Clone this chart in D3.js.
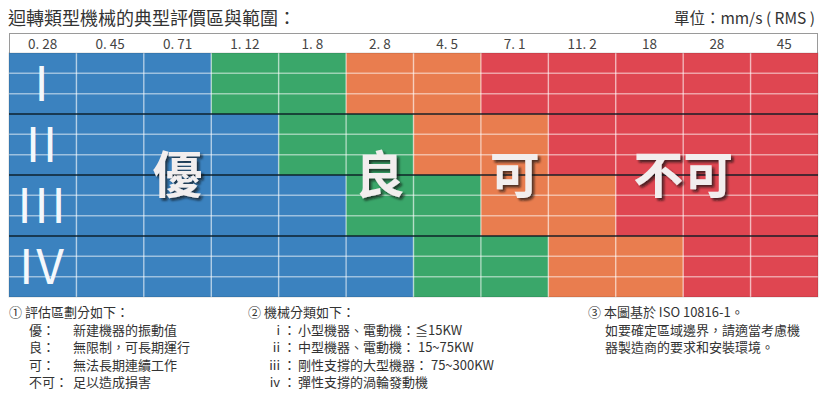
<!DOCTYPE html>
<html>
<head>
<meta charset="utf-8">
<script src="https://cdn.jsdelivr.net/npm/d3@7"></script>
<style>
  body { margin: 0; background: #fff; }
  text { font-family: "Noto Sans CJK TC", "Noto Sans", sans-serif; }
</style>
</head>
<body>
<div id="chart"></div>
<script>
/* velocity steps, mm/s RMS (header row) */
var velocities = ["0.28", "0.45", "0.71", "1.12", "1.8", "2.8", "4.5", "7.1", "11.2", "18", "28", "45"];
/* machine classes (rows) */
var machineClasses = ["I", "II", "III", "IV"];
/* evaluation zones */
var zones = ["優", "良", "可", "不可"];
var zoneColors = ["#3b82bf", "#3aa76a", "#e97d4f", "#df4651"];
/* first velocity column of 良 / 可 / 不可 for each class */
var goodFrom = [3, 4, 5, 6];
var fairFrom = [5, 6, 7, 8];
var poorFrom = [7, 8, 9, 10];
/* column under which each zone label is centred */
var zoneLabelCol = [2, 5, 7, 9.5];

var notes1 = [["優：", "新建機器的振動值"], ["良：", "無限制，可長期運行"], ["可：", "無法長期連續工作"], ["不可：", "足以造成損害"]];
var notes2 = [["i", "小型機器、電動機：≦15KW"], ["ii", "中型機器、電動機： 15~75KW"], ["iii", "剛性支撐的大型機器： 75~300KW"], ["iv", "彈性支撐的渦輪發動機"]];
var notes3 = ["本圖基於 ISO 10816-1。", "如要確定區域邊界，請適當考慮機", "器製造商的要求和安裝環境。"];

var width = 825, height = 399;
var gLeft = 9, gRight = 818, headTop = 33, gTop = 53, gBottom = 297;

var svg = d3.select("#chart").append("svg")
    .attr("width", width)
    .attr("height", height);

var x = d3.scaleBand().domain(velocities).range([gLeft, gRight]);
var y = d3.scaleBand().domain(machineClasses).range([gTop, gBottom]);

/* zone index for a class row / velocity column */
function zoneOf(r, c) {
    if (c >= poorFrom[r]) return 3;
    if (c >= fairFrom[r]) return 2;
    if (c >= goodFrom[r]) return 1;
    return 0;
}

/* title + unit */
svg.append("text")
    .attr("x", 8).attr("y", 25)
    .attr("font-size", 18).attr("fill", "#333")
    .text("迴轉類型機械的典型評價區與範圍：");
svg.append("text")
    .attr("x", 815).attr("y", 24)
    .attr("text-anchor", "end")
    .attr("font-size", 15.5).attr("fill", "#333")
    .text("單位：mm/s ( RMS )");

/* header row */
svg.append("rect")
    .attr("x", gLeft + 0.5).attr("y", headTop + 0.5)
    .attr("width", gRight - gLeft - 1).attr("height", gTop - headTop)
    .attr("fill", "#fff").attr("stroke", "#9a9a9a");

svg.append("g").selectAll("text")
    .data(velocities)
    .join("text")
    .attr("x", function (d) { return x(d) + x.bandwidth() / 2; })
    .attr("y", 49)
    .attr("text-anchor", "middle")
    .attr("font-size", 13.5).attr("fill", "#444")
    .text(function (d) { return d.replace(".", ". "); });

/* cells */
var cells = [];
machineClasses.forEach(function (m, r) {
    velocities.forEach(function (v, c) {
        cells.push({ m: m, v: v, zone: zoneOf(r, c) });
    });
});

svg.append("g").selectAll("rect")
    .data(cells)
    .join("rect")
    .attr("x", function (d) { return x(d.v); })
    .attr("y", function (d) { return y(d.m); })
    .attr("width", x.bandwidth())
    .attr("height", y.bandwidth())
    .attr("fill", function (d) { return zoneColors[d.zone]; });

/* light grid: sub rows and columns */
var grid = svg.append("g")
    .attr("stroke", "rgba(255,255,255,0.5)")
    .attr("stroke-width", 1.5);

machineClasses.forEach(function (m) {
    [1, 2].forEach(function (k) {
        var yy = y(m) + y.bandwidth() * k / 3;
        grid.append("line")
            .attr("x1", gLeft).attr("x2", gRight)
            .attr("y1", yy).attr("y2", yy);
    });
});
velocities.slice(1).forEach(function (v) {
    grid.append("line")
        .attr("x1", x(v)).attr("x2", x(v))
        .attr("y1", gTop).attr("y2", gBottom);
});

/* dark class separators */
svg.append("g").selectAll("line")
    .data(machineClasses.slice(1))
    .join("line")
    .attr("x1", gLeft).attr("x2", gRight)
    .attr("y1", function (d) { return y(d); })
    .attr("y2", function (d) { return y(d); })
    .attr("stroke", "rgba(10,25,35,0.7)")
    .attr("stroke-width", 2);

/* outline */
svg.append("rect")
    .attr("x", gLeft).attr("y", gTop)
    .attr("width", gRight - gLeft).attr("height", gBottom - gTop)
    .attr("fill", "none").attr("stroke", "rgba(0,0,0,0.15)");

/* roman class labels */
svg.append("g").selectAll("text")
    .data(machineClasses)
    .join("text")
    .attr("x", 43)
    .attr("y", function (d) { return y(d) + y.bandwidth() / 2 + 17; })
    .attr("text-anchor", "middle")
    .attr("font-family", "'Liberation Sans', sans-serif")
    .attr("font-size", 48)
    .attr("letter-spacing", 3)
    .attr("fill", "#f4f8fc")
    .text(function (d) { return d; });

/* zone labels with drop shadow */
var defs = svg.append("defs");
defs.append("filter").attr("id", "shadow")
    .attr("x", "-20%").attr("y", "-20%").attr("width", "140%").attr("height", "140%")
    .append("feDropShadow")
    .attr("dx", 2.5).attr("dy", 2.5)
    .attr("stdDeviation", 1)
    .attr("flood-color", "#141414").attr("flood-opacity", 0.7);

var labelY = y("III") + 18;
svg.append("g").selectAll("text")
    .data(zones)
    .join("text")
    .attr("x", function (d, i) { return x(velocities[0]) + x.bandwidth() * (zoneLabelCol[i] + 0.5); })
    .attr("y", labelY)
    .attr("text-anchor", "middle")
    .attr("font-size", 50).attr("font-weight", "bold")
    .attr("fill", "#f2eeee")
    .attr("filter", "url(#shadow)")
    .text(function (d) { return d; });

/* notes */
var lineH = 17.5, noteTop = 317;
var notes = svg.append("g").attr("font-size", 13).attr("fill", "#333");

notes.append("text").attr("x", 9).attr("y", noteTop).text("① 評估區劃分如下：");
notes1.forEach(function (n, i) {
    notes.append("text").attr("x", 29).attr("y", noteTop + lineH * (i + 1)).text(n[0]);
    notes.append("text").attr("x", 73).attr("y", noteTop + lineH * (i + 1)).text(n[1]);
});

notes.append("text").attr("x", 248).attr("y", noteTop).text("② 機械分類如下：");
notes2.forEach(function (n, i) {
    notes.append("text").attr("x", 280).attr("y", noteTop + lineH * (i + 1))
        .attr("text-anchor", "end").text(n[0]);
    notes.append("text").attr("x", 283).attr("y", noteTop + lineH * (i + 1)).text("：");
    notes.append("text").attr("x", 298).attr("y", noteTop + lineH * (i + 1)).text(n[1]);
});

notes.append("text").attr("x", 588).attr("y", noteTop).text("③ " + notes3[0]);
notes3.slice(1).forEach(function (t, i) {
    notes.append("text").attr("x", 605).attr("y", noteTop + lineH * (i + 1)).text(t);
});
</script>
</body>
</html>
